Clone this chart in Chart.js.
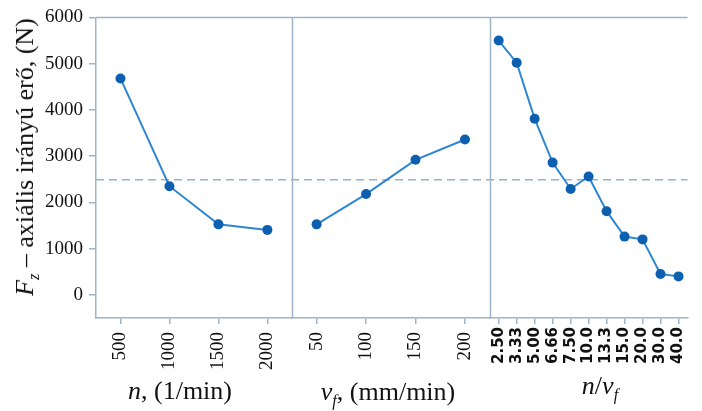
<!DOCTYPE html>
<html>
<head>
<meta charset="utf-8">
<script src="https://cdn.jsdelivr.net/npm/chart.js@4.4.1/dist/chart.umd.min.js"></script>
<style>
  html, body { margin: 0; padding: 0; background: #fff; overflow: hidden; }
  #clip { position: relative; width: 702px; height: 411px; overflow: hidden; }
  #wrap { position: absolute; left: 0; top: 0; width: 706px; height: 411px; }
  .t {
    position: absolute; transform: translate(-50%, -50%);
    font-family: "Liberation Serif", serif; font-size: 26px; color: #111;
    white-space: nowrap; line-height: 1;
  }
  .t i { font-style: italic; }
  .t sub { font-size: 0.62em; font-style: italic; vertical-align: -0.35em; line-height: 0; }
  #ytitle { transform: translate(-50%, -50%) rotate(-90deg); }
</style>
</head>
<body>
<div id="clip">
  <div id="wrap"><canvas id="chart"></canvas></div>
  <div class="t" id="ytitle" style="left:25px; top:157px;"><i>F</i><sub>z</sub> – axiális irányú erő, (N)</div>
  <div class="t" style="left:180px; top:391px;"><i>n</i>, (1/min)</div>
  <div class="t" style="left:388px; top:392px;"><i>v</i><sub>f</sub>, (mm/min)</div>
  <div class="t" style="left:600px; top:386px;"><i>n</i>/<i>v</i><sub>f</sub></div>
</div>
<script>
// spindle speed n
const nLabels = ['500', '1000', '1500', '2000'];
const nForce = [4680, 2350, 1525, 1405];

// feed rate vf
const vfLabels = ['50', '100', '150', '200'];
const vfForce = [1525, 2180, 2920, 3360];

// ratio n/vf
const ratioLabels = ['2.50', '3.33', '5.00', '6.66', '7.50', '10.0', '13.3', '15.0', '20.0', '30.0', '40.0'];
const ratioForce = [5500, 5020, 3810, 2860, 2290, 2560, 1810, 1260, 1200, 450, 400];

// force axis ticks
const yTicks = [0, 1000, 2000, 3000, 4000, 5000, 6000];

// overall mean (dashed line)
const grandMean = 2490;

const frameColor = '#9fb4c6';
const lineColor = '#2f87d3';
const dotColor = '#0d5fb0';

// dashed mean line, top border and panel separators
const framePlugin = {
  id: 'frame',
  beforeDatasetsDraw(chart) {
    const { ctx, chartArea: a, scales } = chart;
    ctx.save();
    const y = scales.y.getPixelForValue(grandMean);
    ctx.strokeStyle = '#97b3ca';
    ctx.lineWidth = 1.5;
    ctx.setLineDash([8, 5]);
    ctx.beginPath();
    ctx.moveTo(a.left, y);
    ctx.lineTo(a.right, y);
    ctx.stroke();

    ctx.setLineDash([]);
    ctx.strokeStyle = frameColor;
    ctx.beginPath();
    ctx.moveTo(a.left, a.top);
    ctx.lineTo(a.right, a.top);
    ['x2', 'x3'].forEach(id => {
      const x = Math.round(scales[id].left) + 0.5;
      ctx.moveTo(x, a.top);
      ctx.lineTo(x, a.bottom);
    });
    ctx.stroke();
    ctx.restore();
  }
};

const serifTicks = { family: '"Liberation Serif", serif', size: 19 };

const xAxis = (labels, weight, font, pad) => ({
  type: 'category',
  position: 'bottom',
  labels: labels,
  stack: 'panels',
  stackWeight: weight,
  offset: true,
  grid: { drawOnChartArea: false, drawTicks: true, tickLength: 6, color: frameColor, lineWidth: 1.5 },
  border: { display: true, color: frameColor, width: 1.5 },
  ticks: { autoSkip: false, minRotation: 90, maxRotation: 90, padding: pad, color: '#111', font: font },
  afterFit: (scale) => { scale.height = 93; }
});

const series = (data, axis) => ({
  data: data,
  xAxisID: axis,
  yAxisID: 'y',
  borderColor: lineColor,
  borderWidth: 2,
  pointRadius: 5,
  pointBackgroundColor: dotColor,
  pointBorderColor: dotColor,
  pointBorderWidth: 0,
  tension: 0
});

new Chart(document.getElementById('chart'), {
  type: 'line',
  data: {
    datasets: [
      series(nForce, 'x1'),
      series(vfForce, 'x2'),
      series(ratioForce, 'x3')
    ]
  },
  options: {
    responsive: true,
    maintainAspectRatio: false,
    animation: false,
    layout: { padding: { top: 17, right: 0, bottom: 0, left: 0 } },
    plugins: { legend: { display: false }, tooltip: { enabled: false } },
    scales: {
      x1: xAxis(nLabels, 202, serifTicks, 8),
      x2: xAxis(vfLabels, 204, serifTicks, 8),
      x3: xAxis(ratioLabels, 204, { family: '"DejaVu Sans", sans-serif', size: 15, weight: 'bold' }, 3),
      y: {
        type: 'linear',
        position: 'left',
        min: -500,
        max: 6000,
        grid: { drawOnChartArea: false, drawTicks: true, tickLength: 7, color: frameColor, lineWidth: 1.5 },
        border: { display: true, color: frameColor, width: 1.5 },
        ticks: { padding: 6, color: '#111', font: serifTicks, callback: (v) => String(v) },
        afterBuildTicks: (scale) => { scale.ticks = yTicks.map(v => ({ value: v })); },
        afterFit: (scale) => { scale.width = 96; }
      }
    }
  },
  plugins: [framePlugin]
});
</script>
</body>
</html>
